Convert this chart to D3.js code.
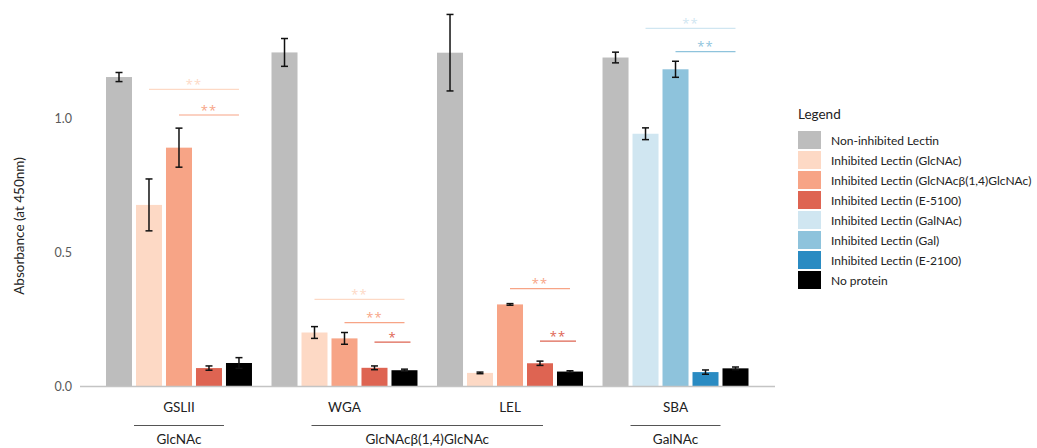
<!DOCTYPE html>
<html>
<head>
<meta charset="utf-8">
<script src="https://cdn.jsdelivr.net/npm/d3@7"></script>
<style>
  body { margin: 0; background: #fff; }
  svg { font-family: Lato, "Open Sans", sans-serif; }
</style>
</head>
<body>
<svg id="chart" width="1037" height="448"></svg>
<script>
// lectins on the x axis and the sugar each one binds
const lectins = ["GSLII", "WGA", "LEL", "SBA"];
const sugarGroups = [
  { name: "GlcNAc", lectins: ["GSLII"] },
  { name: "GlcNAc\u03b2(1,4)GlcNAc", lectins: ["WGA", "LEL"] },
  { name: "GalNAc", lectins: ["SBA"] },
];

const seriesNames = [
  "Non-inhibited Lectin",
  "Inhibited Lectin (GlcNAc)",
  "Inhibited Lectin (GlcNAc\u03b2(1,4)GlcNAc)",
  "Inhibited Lectin (E-5100)",
  "Inhibited Lectin (GalNAc)",
  "Inhibited Lectin (Gal)",
  "Inhibited Lectin (E-2100)",
  "No protein",
];
const seriesColors = ["#bdbdbd", "#fdd9c5", "#f7a486", "#de6452", "#d0e6f1", "#8ec3dc", "#2a8bc2", "#000000"];

// which series sits in each of the 5 slots per lectin
const barSeries = {
  GSLII: [0, 1, 2, 3, 7],
  WGA: [0, 1, 2, 3, 7],
  LEL: [0, 1, 2, 3, 7],
  SBA: [0, 4, 5, 6, 7],
};
const barValues = {
  GSLII: [1.155, 0.677, 0.891, 0.067, 0.086],
  WGA: [1.247, 0.2, 0.178, 0.068, 0.059],
  LEL: [1.246, 0.049, 0.305, 0.085, 0.054],
  SBA: [1.228, 0.943, 1.184, 0.052, 0.066],
};
const barErrors = {
  GSLII: [0.017, 0.097, 0.073, 0.008, 0.02],
  WGA: [0.052, 0.022, 0.022, 0.007, 0.004],
  LEL: [0.143, 0.003, 0.003, 0.008, 0.003],
  SBA: [0.02, 0.022, 0.03, 0.008, 0.005],
};

// significance lines: lectin, from slot, to slot, height, label
const sigLines = [
  ["GSLII", 1, 4, 1.109, "**"],
  ["GSLII", 2, 4, 1.013, "**"],
  ["WGA", 1, 4, 0.324, "**"],
  ["WGA", 2, 4, 0.237, "**"],
  ["WGA", 3, 4.2, 0.164, "*"],
  ["LEL", 2, 4, 0.364, "**"],
  ["LEL", 3, 4.2, 0.168, "**"],
  ["SBA", 1, 4, 1.337, "**"],
  ["SBA", 2, 4, 1.25, "**"],
];

const yTicks = [0, 0.5, 1.0];

const svg = d3.select("#chart");

const x0 = d3.scaleBand()
  .domain(lectins)
  .range([106, 106 + 3 * 165.5 + 146])
  .paddingInner(0.118)
  .paddingOuter(0);

const x1 = d3.scaleBand()
  .domain([0, 1, 2, 3, 4])
  .range([0, x0.bandwidth()])
  .paddingInner(0.133);

const y = d3.scaleLinear()
  .domain([0, 1])
  .range([386, 118.5]);

// y axis labels, no line
const yAxis = d3.axisLeft(y)
  .tickValues(yTicks)
  .tickSize(0)
  .tickPadding(8)
  .tickFormat(d3.format(".1f"));

const yg = svg.append("g")
  .attr("transform", "translate(80,0)")
  .call(yAxis);
yg.select(".domain").remove();
yg.selectAll("text")
  .attr("fill", "#595959")
  .style("font-size", "12.5px")
  .style("font-family", "Lato, sans-serif");

svg.append("text")
  .attr("transform", "translate(24,226) rotate(-90)")
  .attr("text-anchor", "middle")
  .attr("fill", "#222")
  .style("font-size", "13.5px")
  .text("Absorbance (at 450nm)");

// bars
const barData = [];
lectins.forEach(l => {
  barSeries[l].forEach((s, i) => {
    barData.push({ lectin: l, slot: i, series: s, value: barValues[l][i], err: barErrors[l][i] });
  });
});

const bars = svg.append("g");
bars.selectAll("rect")
  .data(barData)
  .enter()
  .append("rect")
  .attr("x", d => x0(d.lectin) + x1(d.slot))
  .attr("y", d => y(d.value))
  .attr("width", x1.bandwidth())
  .attr("height", d => y(0) - y(d.value))
  .attr("fill", d => seriesColors[d.series]);

// x axis baseline
svg.append("line")
  .attr("x1", 80).attr("x2", 775)
  .attr("y1", y(0) + 0.5).attr("y2", y(0) + 0.5)
  .attr("stroke", "#c4c4c4")
  .attr("stroke-width", 1.5);

// error bars
const errG = svg.append("g")
  .attr("stroke", "#111")
  .attr("stroke-width", 1.5);
barData.forEach(d => {
  const cx = x0(d.lectin) + x1(d.slot) + x1.bandwidth() / 2;
  errG.append("line")
    .attr("x1", cx).attr("x2", cx)
    .attr("y1", y(d.value + d.err)).attr("y2", y(d.value - d.err));
  [d.value + d.err, d.value - d.err].forEach(v => {
    errG.append("line")
      .attr("x1", cx - 3.5).attr("x2", cx + 3.5)
      .attr("y1", y(v)).attr("y2", y(v));
  });
});

// significance lines
const sigG = svg.append("g");
sigLines.forEach(([l, from, to, h, label]) => {
  const color = seriesColors[barSeries[l][from]];
  const xa = x0(l) + x1(from) + x1.bandwidth() / 2;
  const xb = x0(l) + x1.step() * to + x1.bandwidth() / 2;
  sigG.append("line")
    .attr("x1", xa).attr("x2", xb)
    .attr("y1", y(h)).attr("y2", y(h))
    .attr("stroke", color)
    .attr("stroke-width", 1.2);
  sigG.append("text")
    .attr("x", (xa + xb) / 2)
    .attr("y", y(h) - 0.5)
    .attr("text-anchor", "middle")
    .attr("fill", color)
    .style("font-family", "Open Sans, sans-serif")
    .style("font-size", "13px")
    .style("letter-spacing", "1px")
    .text(label);
});

// lectin labels
svg.append("g").selectAll("text")
  .data(lectins)
  .enter()
  .append("text")
  .attr("x", d => x0(d) + x0.bandwidth() / 2)
  .attr("y", 412)
  .attr("text-anchor", "middle")
  .attr("fill", "#222")
  .style("font-size", "13.5px")
  .text(d => d);

// sugar groups
sugarGroups.forEach(g => {
  const first = g.lectins[0];
  const last = g.lectins[g.lectins.length - 1];
  const inset = g.lectins.length > 1 ? 40 : 28;
  const xa = x0(first) + inset;
  const xb = x0(last) + x0.bandwidth() - inset;
  svg.append("line")
    .attr("x1", xa).attr("x2", xb)
    .attr("y1", 425.5).attr("y2", 425.5)
    .attr("stroke", "#555")
    .attr("stroke-width", 1);
  svg.append("text")
    .attr("x", (x0(first) + x0(last) + x0.bandwidth()) / 2)
    .attr("y", 444)
    .attr("text-anchor", "middle")
    .attr("fill", "#222")
    .style("font-size", "13.5px")
    .text(g.name);
});

// legend
const legend = svg.append("g").attr("transform", "translate(798,0)");
legend.append("text")
  .attr("x", 0).attr("y", 119)
  .attr("fill", "#222")
  .style("font-size", "13.5px")
  .text("Legend");

const items = legend.selectAll("g.item")
  .data(seriesNames)
  .enter()
  .append("g")
  .attr("class", "item")
  .attr("transform", (d, i) => `translate(0,${131 + i * 20})`);
items.append("rect")
  .attr("width", 23)
  .attr("height", 18)
  .attr("fill", (d, i) => seriesColors[i]);
items.append("text")
  .attr("x", 33)
  .attr("y", 13.5)
  .attr("fill", "#222")
  .style("font-size", "12px")
  .text(d => d);
</script>
</body>
</html>
